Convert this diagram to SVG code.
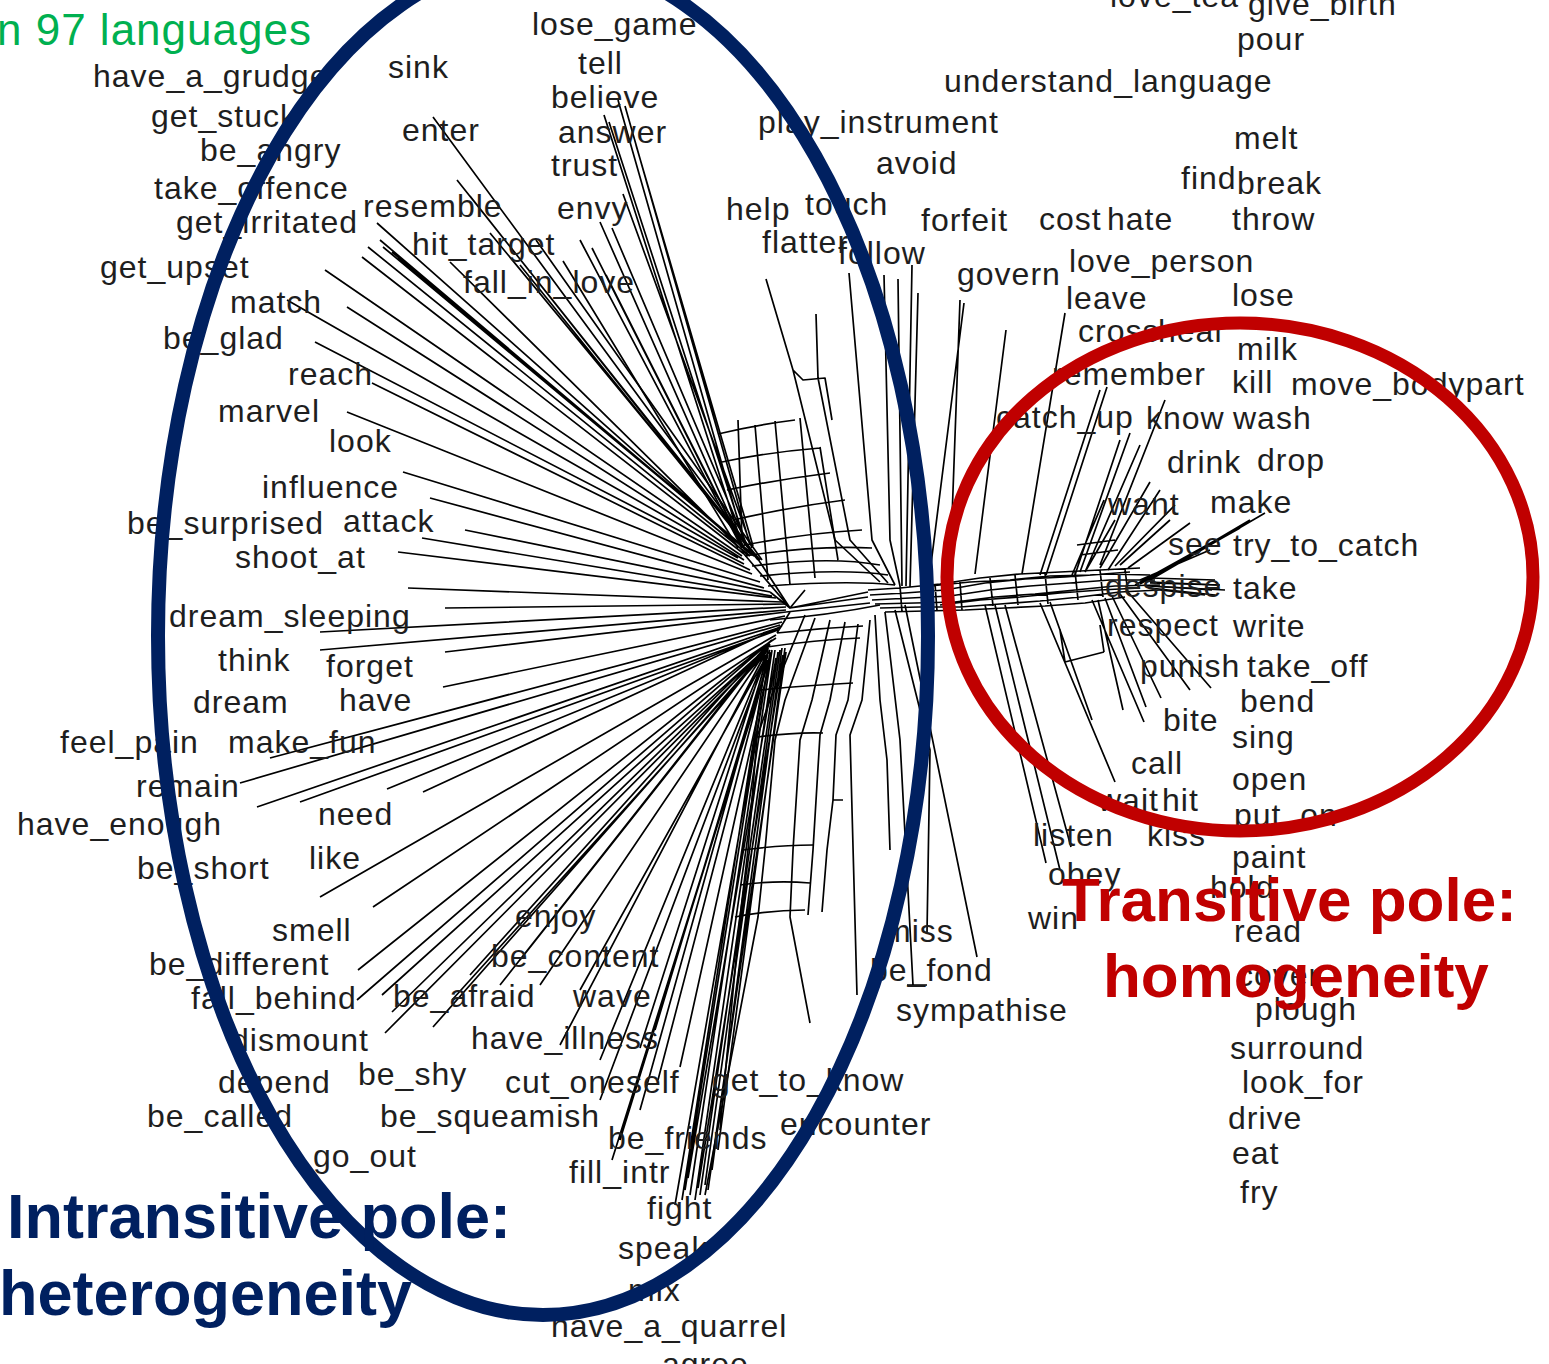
<svg xmlns="http://www.w3.org/2000/svg" width="1549" height="1364" viewBox="0 0 1549 1364">
<style>
.l{font-family:"Liberation Sans",Arial,sans-serif;font-size:32px;letter-spacing:1px;fill:#1e1e1e}
.big{font-family:"Liberation Sans",Arial,sans-serif;font-weight:bold}
.net{fill:none;stroke:#000;stroke-width:1.7;stroke-linejoin:round}
</style>
<rect width="1549" height="1364" fill="#fff"/>
<g id="connectors" class="net">
<path d="M433 117L756 556M457 180L758 558M470 196L752 552M490 233L760 560M450 262L748 556M377 223L748 552M368 247L750 556M383 247L754 556M362 257L744 554M380 240L750 553M392 252L752 555M398 258L756 557M536 240L762 560M520 265L758 560M325 270L742 556M287 300L738 558M347 307L744 560M315 342L744 564M372 383L750 570M347 412L752 574M403 472L760 582M430 498L764 588M465 530L770 592M422 538L772 596M398 552L776 598M408 588L782 602M445 608L786 604M320 632L786 607M320 650L786 610M445 652L786 612M443 687L785 616"/>
<path d="M618 100L745 545M604 115L742 545M625 106L750 545M609 122L747 547M623 194L752 548M600 222L744 548M612 228L748 548M563 261L738 548M606 275L745 550M580 240L742 548M636 145L753 546M592 248L743 547"/>
<path d="M766 279L793 370L835 540L880 582M816 314L818 378L850 540L888 583M849 273L872 540L895 585M884 275L890 540L900 586M898 279L902 586M918 293L910 587M912 265L906 586M964 303L928 588M960 300L950 573M1006 330L975 574M1065 313L1022 574M793 370L803 380L825 378L832 420"/>
<path d="M718 434Q755 425 795 420M722 462Q770 452 820 448M727 490Q775 480 830 473M733 520Q790 507 845 500M740 546Q805 533 862 530M745 556Q815 545 872 548M752 566Q830 556 880 565M760 576Q840 568 888 575M768 586Q850 580 895 585M755 425L768 580M775 421L790 585M800 418L815 578M820 447L838 560M738 420L742 540"/>
<path d="M744 554L790 608M756 556L790 608M770 592L790 608L805 590M790 608L868 597M790 608L868 592M786 612L870 603"/>
<path d="M777 633Q820 628 863 626M767 647Q815 640 860 638M760 690Q810 685 853 683M770 620Q830 615 880 605M790 612L777 633"/>
<path d="M805 615L770 700L757 737L748 850L740 917L720 1130M815 618L785 700L775 740L765 850L758 917L705 1195M830 620L812 700L800 740L793 850L790 917L810 1023M845 622L830 700L820 735L813 850L808 915M858 624L848 700L836 735L833 800L843 800M833 800L827 850L822 912M870 620L862 700L850 735L857 995M885 612L900 740L913 985M895 610L930 750L927 933M905 605L977 957M875 615L880 700L887 760L890 850"/>
<path d="M757 737Q795 732 823 733M743 850Q780 845 813 845M740 885Q775 880 810 883M735 917Q770 910 805 910M907 985L927 985"/>
<path d="M270 758L782 622M240 783L780 625M257 807L778 628M300 802L778 630M387 789L780 628M423 792L782 626M320 897L776 635M373 907L776 638M358 970L772 640M357 1000L770 642M382 995L770 645M392 1012L768 646M385 1033L768 648M433 1027L766 650M470 975L770 642M500 985L768 645M540 985L768 648M580 990L770 650M560 1045L766 652M600 1060L766 655M655 1030L768 655M640 1048L765 656M600 1100L766 658M640 1110L766 660M658 1080L768 660M680 1067L770 660M620 1140L768 662M612 1160L768 664M520 960L770 644M452 1000L768 650"/>
<path d="M690 1195L772 650M695 1200L775 650M700 1195L778 652M685 1190L770 652M705 1185L780 650M712 1170L782 648M718 1150L785 648M675 1205L770 655M708 1190L786 652M682 1200L768 648M698 1188L783 655M688 1178L776 658"/>
<path d="M868 590L900 588L940 584L980 578L1020 574L1060 572L1100 570L1140 568M870 595L905 593L945 590L985 583L1025 579L1065 577L1105 574L1150 575M872 600L910 598L950 596L990 590L1030 586L1070 583L1110 580L1155 580M875 604L915 603L955 602L995 597L1035 594L1075 590L1115 586L1160 585M880 608L920 607L960 607L1000 604L1040 601L1080 597L1120 592L1160 590M885 612L925 611L965 610L1005 608L1045 606L1085 603L1125 597M930 586L970 582L1010 580L1050 576L1090 575L1130 572M940 605L980 600L1020 597L1060 593L1100 590L1140 588M900 586L902 612M935 584L937 611M960 582L962 610M990 578L993 606M1015 575L1018 605M1045 573L1048 604M1075 571L1078 600M1100 570L1103 597M1125 569L1128 594"/>
<path d="M1107 387L1046 575M1100 390L1040 575M1165 400L1100 565M1130 433L1080 572M1120 440L1075 575M1140 445L1085 572M1150 482L1100 568M1160 490L1108 570M1175 505L1115 566M1170 520L1120 565M1190 523L1128 568M1265 513L1150 580M1250 520L1145 582M1240 528L1140 584M1225 535L1135 585M1210 550L1140 580M1220 585L1150 583M1225 590L1148 586M1215 595L1150 588M1104 500L1072 575M1115 520L1085 572M1077 545L1115 540M1080 555L1118 550"/>
<path d="M1150 578L1215 580M1150 582L1218 585M1152 586L1212 590M1160 590L1205 595"/>
<path d="M1046 863L985 605M1060 870L995 605M1071 847L1005 605M1115 782L1040 603M1092 720L1050 602M1144 722L1092 600M1123 710L1098 600M1146 707L1105 598M1161 698L1112 596M1190 690L1120 594M1211 688L1128 592M1065 662L1104 652M1065 662L1060 630M1104 652L1100 625"/>
</g>
<g id="labels">
<text class="l" x="532" y="35">lose_game</text>
<text class="l" x="578" y="74">tell</text>
<text class="l" x="551" y="108">believe</text>
<text class="l" x="558" y="143">answer</text>
<text class="l" x="551" y="176">trust</text>
<text class="l" x="557" y="219">envy</text>
<text class="l" x="388" y="78">sink</text>
<text class="l" x="93" y="87">have_a_grudge</text>
<text class="l" x="151" y="127">get_stuck</text>
<text class="l" x="402" y="141">enter</text>
<text class="l" x="200" y="161">be_angry</text>
<text class="l" x="154" y="199">take_offence</text>
<text class="l" x="363" y="217">resemble</text>
<text class="l" x="176" y="233">get_irritated</text>
<text class="l" x="412" y="255">hit_target</text>
<text class="l" x="100" y="278">get_upset</text>
<text class="l" x="463" y="293">fall_in_love</text>
<text class="l" x="230" y="313">match</text>
<text class="l" x="163" y="349">be_glad</text>
<text class="l" x="288" y="385">reach</text>
<text class="l" x="218" y="422">marvel</text>
<text class="l" x="329" y="452">look</text>
<text class="l" x="262" y="498">influence</text>
<text class="l" x="127" y="534">be_surprised</text>
<text class="l" x="343" y="532">attack</text>
<text class="l" x="235" y="568">shoot_at</text>
<text class="l" x="169" y="627">dream_sleeping</text>
<text class="l" x="218" y="671">think</text>
<text class="l" x="326" y="677">forget</text>
<text class="l" x="193" y="713">dream</text>
<text class="l" x="339" y="711">have</text>
<text class="l" x="60" y="753">feel_pain</text>
<text class="l" x="228" y="753">make_fun</text>
<text class="l" x="136" y="797">remain</text>
<text class="l" x="17" y="835">have_enough</text>
<text class="l" x="318" y="825">need</text>
<text class="l" x="309" y="869">like</text>
<text class="l" x="137" y="879">be_short</text>
<text class="l" x="272" y="941">smell</text>
<text class="l" x="149" y="975">be_different</text>
<text class="l" x="191" y="1009">fall_behind</text>
<text class="l" x="393" y="1007">be_afraid</text>
<text class="l" x="231" y="1051">dismount</text>
<text class="l" x="218" y="1093">depend</text>
<text class="l" x="358" y="1085">be_shy</text>
<text class="l" x="147" y="1127">be_called</text>
<text class="l" x="380" y="1127">be_squeamish</text>
<text class="l" x="313" y="1167">go_out</text>
<text class="l" x="515" y="927">enjoy</text>
<text class="l" x="491" y="967">be_content</text>
<text class="l" x="573" y="1007">wave</text>
<text class="l" x="471" y="1049">have_illness</text>
<text class="l" x="505" y="1093">cut_oneself</text>
<text class="l" x="712" y="1091">get_to_know</text>
<text class="l" x="780" y="1135">encounter</text>
<text class="l" x="608" y="1149">be_friends</text>
<text class="l" x="569" y="1183">fill_intr</text>
<text class="l" x="647" y="1219">fight</text>
<text class="l" x="618" y="1259">speak</text>
<text class="l" x="628" y="1301">mix</text>
<text class="l" x="551" y="1337">have_a_quarrel</text>
<text class="l" x="662" y="1375">agree</text>
<text class="l" x="726" y="220">help</text>
<text class="l" x="805" y="215">touch</text>
<text class="l" x="758" y="133">play_instrument</text>
<text class="l" x="876" y="174">avoid</text>
<text class="l" x="762" y="253">flatter</text>
<text class="l" x="838" y="264">follow</text>
<text class="l" x="921" y="231">forfeit</text>
<text class="l" x="957" y="285">govern</text>
<text class="l" x="1039" y="230">cost</text>
<text class="l" x="1107" y="230">hate</text>
<text class="l" x="944" y="92">understand_language</text>
<text class="l" x="1110" y="7">love_tea</text>
<text class="l" x="1248" y="15">give_birth</text>
<text class="l" x="1237" y="50">pour</text>
<text class="l" x="1234" y="149">melt</text>
<text class="l" x="1181" y="189">find</text>
<text class="l" x="1237" y="194">break</text>
<text class="l" x="1232" y="230">throw</text>
<text class="l" x="1069" y="272">love_person</text>
<text class="l" x="1066" y="309">leave</text>
<text class="l" x="1232" y="306">lose</text>
<text class="l" x="1078" y="342">cross</text>
<text class="l" x="1158" y="342">heal</text>
<text class="l" x="1237" y="360">milk</text>
<text class="l" x="1052" y="385">remember</text>
<text class="l" x="1232" y="393">kill</text>
<text class="l" x="1291" y="395">move_bodypart</text>
<text class="l" x="996" y="428">catch_up</text>
<text class="l" x="1146" y="429">know</text>
<text class="l" x="1233" y="429">wash</text>
<text class="l" x="1167" y="473">drink</text>
<text class="l" x="1257" y="471">drop</text>
<text class="l" x="1108" y="515">want</text>
<text class="l" x="1210" y="513">make</text>
<text class="l" x="1168" y="555">see</text>
<text class="l" x="1233" y="556">try_to_catch</text>
<text class="l" x="1105" y="597">despise</text>
<text class="l" x="1233" y="599">take</text>
<text class="l" x="1107" y="636">respect</text>
<text class="l" x="1233" y="637">write</text>
<text class="l" x="1140" y="677">punish</text>
<text class="l" x="1247" y="677">take_off</text>
<text class="l" x="1240" y="712">bend</text>
<text class="l" x="1163" y="731">bite</text>
<text class="l" x="1232" y="748">sing</text>
<text class="l" x="1131" y="774">call</text>
<text class="l" x="1232" y="790">open</text>
<text class="l" x="1098" y="811">wait</text>
<text class="l" x="1162" y="811">hit</text>
<text class="l" x="1234" y="826">put_on</text>
<text class="l" x="1033" y="846">listen</text>
<text class="l" x="1147" y="846">kiss</text>
<text class="l" x="1232" y="868">paint</text>
<text class="l" x="1048" y="885">obey</text>
<text class="l" x="1210" y="898">hold</text>
<text class="l" x="1028" y="929">win</text>
<text class="l" x="1234" y="942">read</text>
<text class="l" x="1237" y="986">cover</text>
<text class="l" x="1255" y="1020">plough</text>
<text class="l" x="1230" y="1059">surround</text>
<text class="l" x="1242" y="1093">look_for</text>
<text class="l" x="1228" y="1129">drive</text>
<text class="l" x="1232" y="1164">eat</text>
<text class="l" x="1240" y="1203">fry</text>
<text class="l" x="884" y="942">miss</text>
<text class="l" x="870" y="981">be_fond</text>
<text class="l" x="896" y="1021">sympathise</text>
</g>
<g id="poles" fill="none">
<ellipse id="intransitive-ellipse" cx="543" cy="636" rx="385" ry="679" stroke="#002060" stroke-width="14"/>
<ellipse id="transitive-ellipse" cx="1240" cy="577" rx="293" ry="254" stroke="#C00000" stroke-width="13"/>
</g>
<g id="titles">
<text class="big" x="-3" y="45" style="font-weight:normal;font-size:44px;letter-spacing:1px" fill="#00B050">n 97 languages</text>
<text class="big" x="1062" y="921" font-size="62" fill="#C00000">Transitive pole:</text>
<text class="big" x="1103" y="997" font-size="62" fill="#C00000">homogeneity</text>
<text class="big" x="7" y="1238" font-size="63" fill="#002060">Intransitive pole:</text>
<text class="big" x="-1" y="1315" font-size="63" fill="#002060">heterogeneity</text>
</g>
</svg>
